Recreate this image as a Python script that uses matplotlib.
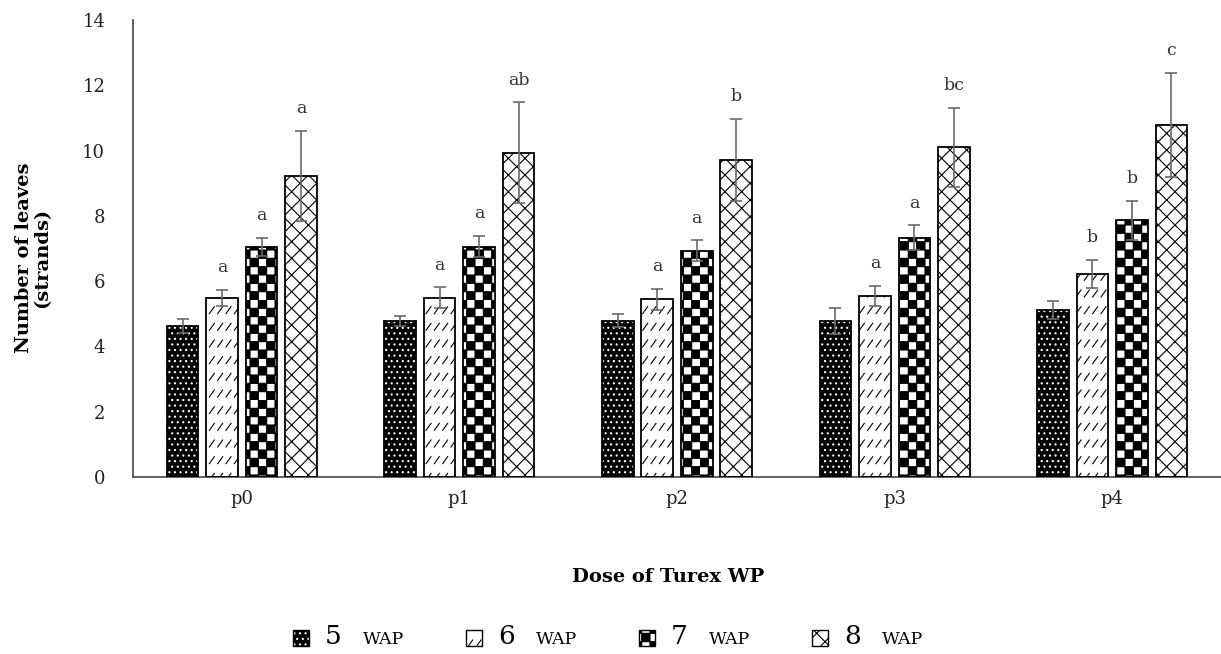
import warnings

import numpy as np
import matplotlib
matplotlib.use("Agg")
import matplotlib.pyplot as plt
import matplotlib.hatch as mhatch
from matplotlib.path import Path
from matplotlib.patches import Rectangle

warnings.filterwarnings("ignore", message=".*hatch must consist.*")

doses = ["p0", "p1", "p2", "p3", "p4"]
weeks = ["5", "6", "7", "8"]

wap5 = [4.63, 4.78, 4.78, 4.78, 5.12]
wap6 = [5.48, 5.49, 5.44, 5.55, 6.22]
wap7 = [7.05, 7.06, 6.93, 7.33, 7.87]
wap8 = [9.22, 9.94, 9.71, 10.10, 10.78]

err5 = [0.21, 0.15, 0.20, 0.39, 0.27]
err6 = [0.25, 0.32, 0.33, 0.31, 0.43]
err7 = [0.28, 0.32, 0.32, 0.38, 0.60]
err8 = [1.38, 1.54, 1.26, 1.21, 1.60]

notes5 = ["", "", "", "", ""]
notes6 = ["a", "a", "a", "a", "b"]
notes7 = ["a", "a", "a", "a", "b"]
notes8 = ["a", "ab", "b", "bc", "c"]


class CheckerHatch(mhatch.HatchPatternBase):
    # filled squares in a checkerboard, 'c' in the hatch string
    def __init__(self, hatch, density):
        self.n = hatch.count("c") * 12
        self.num_vertices = (self.n * self.n // 2) * 5 if self.n else 0

    def set_vertices_and_codes(self, vertices, codes):
        s = 1.0 / self.n
        sq = np.array([[0, 0], [s, 0], [s, s], [0, s], [0, 0]])
        sq_codes = [Path.MOVETO, Path.LINETO, Path.LINETO, Path.LINETO, Path.CLOSEPOLY]
        k = 0
        for i in range(self.n):
            for j in range(self.n):
                if (i + j) % 2 == 0:
                    vertices[k:k + 5] = sq + [i * s, j * s]
                    codes[k:k + 5] = sq_codes
                    k += 5


class DashHatch(mhatch.HatchPatternBase):
    # rows of short slashes, 'd' in the hatch string
    def __init__(self, hatch, density):
        self.on = hatch.count("d") > 0
        self.nr, self.nc = 6, 12
        self.num_vertices = self.nr * self.nc * 2 if self.on else 0

    def set_vertices_and_codes(self, vertices, codes):
        k = 0
        for r in range(self.nr):
            for c in range(self.nc):
                x0 = c / self.nc + 0.01
                y0 = r / self.nr + 0.03
                vertices[k] = [x0, y0]
                vertices[k + 1] = [x0 + 0.05, y0 + 0.07]
                codes[k] = Path.MOVETO
                codes[k + 1] = Path.LINETO
                k += 2


mhatch._hatch_types.append(CheckerHatch)
mhatch._hatch_types.append(DashHatch)

plt.rcParams["font.family"] = ["DejaVu Serif"]
plt.rcParams["hatch.linewidth"] = 0.8

styles = [
    dict(face="black", hatch_col="white", hatch="..."),
    dict(face="white", hatch_col="black", hatch="d"),
    dict(face="white", hatch_col="black", hatch="c"),
    dict(face="white", hatch_col="black", hatch="xx"),
]

fig = plt.figure(figsize=(12.21, 6.54), dpi=100)
ax = fig.add_axes([133 / 1221, 177 / 654, 1088 / 1221, 457 / 654])

x = np.arange(len(doses))
step = 0.1815
width = 0.145
series = [wap5, wap6, wap7, wap8]
errs = [err5, err6, err7, err8]
notes = [notes5, notes6, notes7, notes8]

for i, (vals, err, note, st) in enumerate(zip(series, errs, notes, styles)):
    pos = x + (i - 1.5) * step
    ax.bar(pos, vals, width, color=st["face"], edgecolor=st["hatch_col"],
           hatch=st["hatch"], linewidth=0, zorder=2)
    ax.bar(pos, vals, width, fill=False, edgecolor="black", linewidth=1.3, zorder=3)
    ax.errorbar(pos, vals, yerr=err, fmt="none", ecolor="#6a6a6a",
                elinewidth=1.2, capsize=4, capthick=1.2, zorder=4)
    for px, v, e, t in zip(pos, vals, err, note):
        if t:
            ax.annotate(t, (px, v + e), xytext=(0, 16), textcoords="offset points",
                        ha="center", va="center", fontsize=12.5, color="#333333")

ax.set_xlim(-0.5, 4.5)
ax.set_ylim(0, 14)
ax.set_yticks(np.arange(0, 15, 2))
ax.set_xticks(x)
ax.set_xticklabels(doses)
ax.tick_params(axis="both", length=0, labelsize=13, colors="#222222")
ax.tick_params(axis="y", pad=20)
ax.tick_params(axis="x", pad=9)
for side in ["top", "right"]:
    ax.spines[side].set_visible(False)
for side in ["left", "bottom"]:
    ax.spines[side].set_color("#555555")
    ax.spines[side].set_linewidth(1.3)

ax.set_ylabel("Number of leaves\n(strands)", fontsize=14, fontweight="bold",
              linespacing=1.0)
ax.yaxis.set_label_coords(-0.075, 0.48)

fig.text(668 / 1221, 1 - 577 / 654, "Dose of Turex WP", ha="center", va="center",
         fontsize=14, fontweight="bold")

# legend drawn by hand: big digit followed by small "WAP"
leg_left = [293, 466, 639, 812]
for lx, wk, st in zip(leg_left, weeks, styles):
    fig.patches.append(Rectangle((lx / 1221, 1 - 646 / 654), 16 / 1221, 16 / 654,
                                 transform=fig.transFigure, facecolor=st["face"],
                                 edgecolor=st["hatch_col"], hatch=st["hatch"],
                                 linewidth=0))
    fig.patches.append(Rectangle((lx / 1221, 1 - 646 / 654), 16 / 1221, 16 / 654,
                                 transform=fig.transFigure, fill=False,
                                 edgecolor="black", linewidth=1.0))
    fig.text((lx + 32) / 1221, 1 - 637 / 654, wk, ha="left", va="center", fontsize=19)
    fig.text((lx + 70) / 1221, 1 - 639 / 654, "WAP", ha="left", va="center", fontsize=12.5)

fig.savefig("out.png", dpi=100)
